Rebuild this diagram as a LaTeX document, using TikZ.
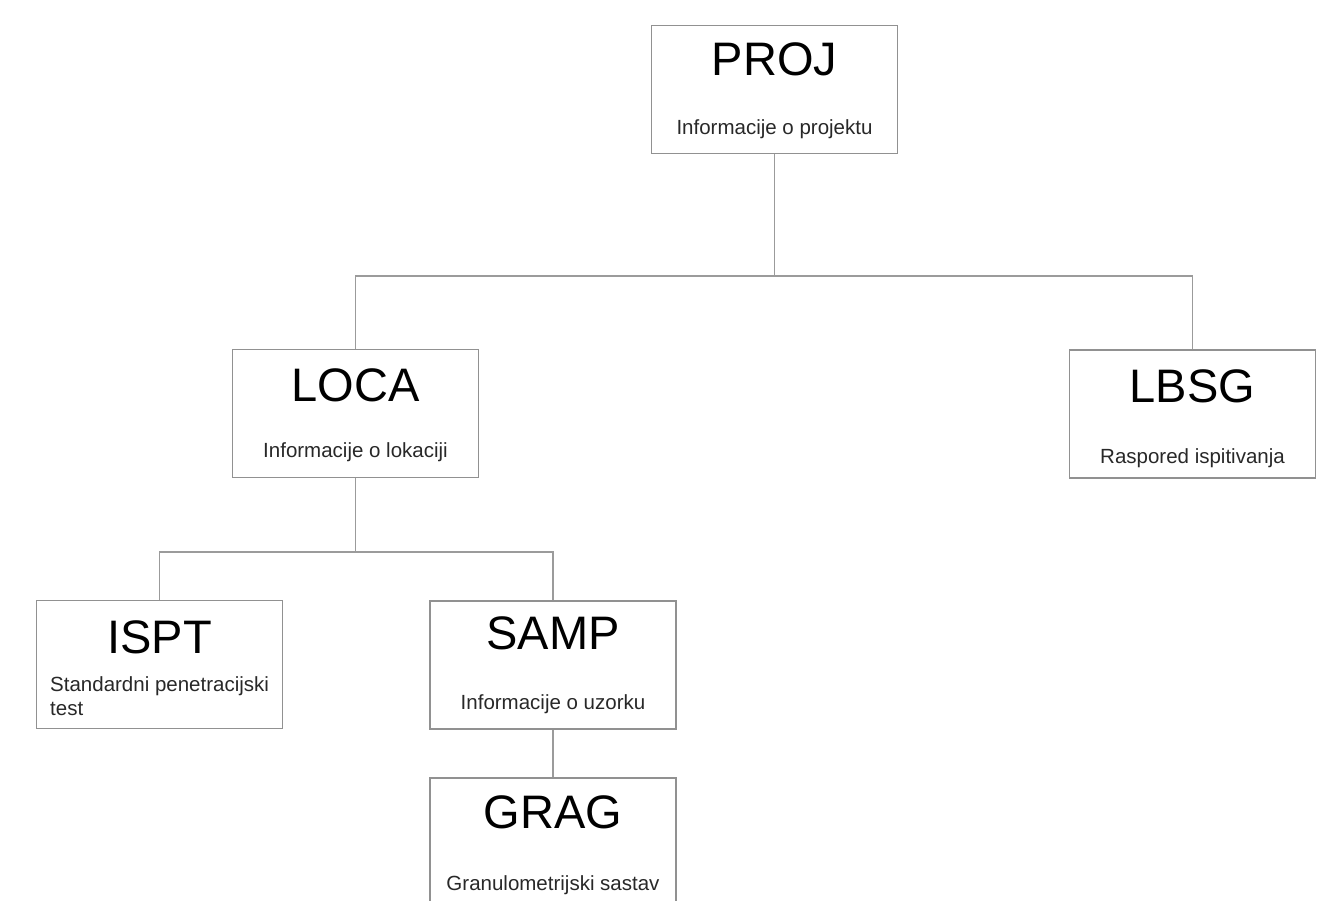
\documentclass[tikz,border=0pt]{standalone}
\usepackage{fontspec}
\setmainfont{Liberation Sans}
\begin{document}
\begin{tikzpicture}[x=1pt,y=-1pt,
  box/.style={draw=boxgray,line width=1.6pt,rectangle,minimum width=246pt,minimum height=128pt,inner sep=0pt},
  ttl/.style={font=\fontsize{47}{52}\selectfont,text=black,inner sep=0pt},
  sub/.style={font=\fontsize{20.5}{25}\selectfont,text=subgray,inner sep=0pt},
  conn/.style={draw=linegray,line width=1.8pt}]
\definecolor{boxgray}{RGB}{145,145,145}
\definecolor{linegray}{RGB}{155,155,155}
\definecolor{subgray}{RGB}{40,40,40}
\useasboundingbox (0,0) rectangle (1328,900);
\begin{scope}
\clip (0,0) rectangle (1328,900);
% boxes
\node[box] (proj) at (774.5,89.5) {};
\node[box] (loca) at (355.5,413.5) {};
\node[box] (lbsg) at (1192.5,414) {};
\node[box] (ispt) at (159.5,664.5) {};
\node[box] (samp) at (553,665) {};
\node[box] (grag) at (553,842) {};
% titles
\node[ttl] (tproj) at (774.5,59) {PROJ};
\node[sub] (sproj) at (774.5,129) {Informacije o projektu};
\node[ttl] (tloca) at (355.5,385) {LOCA};
\node[sub] (sloca) at (355.5,452.5) {Informacije o lokaciji};
\node[ttl] (tlbsg) at (1192.5,386) {LBSG};
\node[sub] (slbsg) at (1192.5,458) {Raspored ispitivanja};
\node[ttl] (tispt) at (159.5,637) {ISPT};
\node[sub,anchor=north west,align=left] (sispt) at (50,676) {Standardni penetracijski\\[-1pt]test};
\node[ttl] (tsamp) at (553,633) {SAMP};
\node[sub] (ssamp) at (553,704) {Informacije o uzorku};
\node[ttl] (tgrag) at (553,812) {GRAG};
\node[sub] (sgrag) at (553,885) {Granulometrijski sastav};
% connectors
\coordinate (bus1) at (0,276);
\coordinate (bus2) at (0,552);
\draw[conn] (proj.south) -- (proj.south |- bus1);
\draw[conn] (loca.north) -- (loca.north |- bus1) -- (lbsg.north |- bus1) -- (lbsg.north);
\draw[conn] (loca.south) -- (loca.south |- bus2);
\draw[conn] (ispt.north) -- (ispt.north |- bus2) -- (samp.north |- bus2) -- (samp.north);
\draw[conn] (samp.south) -- (grag.north);
\end{scope}
\end{tikzpicture}
\end{document}
